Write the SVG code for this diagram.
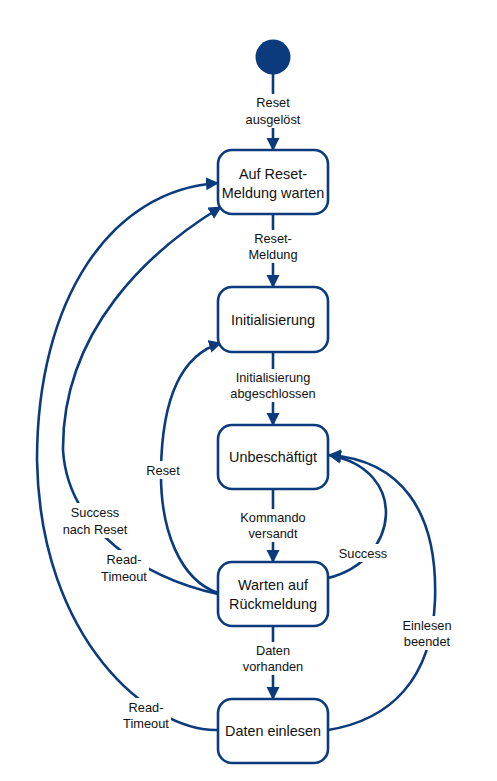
<svg xmlns="http://www.w3.org/2000/svg" width="497" height="781" viewBox="0 0 497 781">
<style>
.node rect{fill:#fff;stroke:#0b3b7c;stroke-width:2.6}
.node text{font-family:"Liberation Sans",Arial,sans-serif;font-size:14.4px;fill:#111;text-anchor:middle}
.edge{fill:none;stroke:#0b3b7c;stroke-width:2.6}
.lbl rect{fill:#fff}
.lbl text{font-family:"Liberation Sans",Arial,sans-serif;font-size:12.8px;fill:#111;text-anchor:middle}
</style>
<defs>
<marker id="ah" markerWidth="14" markerHeight="14" refX="12" refY="6.5" orient="auto" markerUnits="userSpaceOnUse">
<path d="M0,0 L13,6.5 L0,13 z" fill="#0b3b7c"/>
</marker>
</defs>
<rect width="497" height="781" fill="#fff"/>
<g id="connectors">
<path class="edge" d="M273,74 L273,150" marker-end="url(#ah)"/>
<path class="edge" d="M273,214 L273,287" marker-end="url(#ah)"/>
<path class="edge" d="M273,352 L273,425" marker-end="url(#ah)"/>
<path class="edge" d="M273,489 L273,562" marker-end="url(#ah)"/>
<path class="edge" d="M273,626 L273,699" marker-end="url(#ah)"/>
<path class="edge" d="M218,730 C150,732 40,640 37,460 C37,300 110,190 218,183" marker-end="url(#ah)"/>
<path class="edge" d="M218,594 C145,578 68,530 63,450 C62,330 150,250 221,207" marker-end="url(#ah)"/>
<path class="edge" d="M218,593 C180,580 160,530 161,470 C162,400 180,355 221,343" marker-end="url(#ah)"/>
<path class="edge" d="M328,578 C400,560 410,470 329,455" marker-end="url(#ah)"/>
<path class="edge" d="M328,730 C390,720 432,680 435,600 C438,510 400,460 329,455" marker-end="url(#ah)"/>
<g class="lbl"><rect x="244" y="94" width="58" height="34"/><text x="273" y="106.5">Reset</text><text x="273" y="123.5">ausgelöst</text></g>
<g class="lbl"><rect x="246" y="230" width="54" height="33"/><text x="273" y="242.5">Reset-</text><text x="273" y="258.5">Meldung</text></g>
<g class="lbl"><rect x="228" y="369" width="90" height="33"/><text x="273" y="381.5">Initialisierung</text><text x="273" y="397.5">abgeschlossen</text></g>
<g class="lbl"><rect x="239" y="509" width="68" height="33"/><text x="273" y="521.5">Kommando</text><text x="273" y="537.5">versandt</text></g>
<g class="lbl"><rect x="241" y="642" width="64" height="33"/><text x="273" y="654.5">Daten</text><text x="273" y="671">vorhanden</text></g>
<g class="lbl"><rect x="145" y="461" width="36" height="18"/><text x="163" y="474.5">Reset</text></g>
<g class="lbl"><rect x="61" y="503" width="68" height="35"/><text x="95" y="516.5">Success</text><text x="95" y="533.5">nach Reset</text></g>
<g class="lbl"><rect x="99" y="550" width="50" height="35"/><text x="124" y="563.5">Read-</text><text x="124" y="580.5">Timeout</text></g>
<g class="lbl"><rect x="121" y="698" width="50" height="34"/><text x="146" y="711.5">Read-</text><text x="146" y="727.5">Timeout</text></g>
<g class="lbl"><rect x="337" y="544" width="52" height="18"/><text x="363" y="557.5">Success</text></g>
<g class="lbl"><rect x="401" y="616" width="52" height="34"/><text x="427" y="629.5">Einlesen</text><text x="427" y="645.5">beendet</text></g>
</g>
<g id="start"><circle cx="273" cy="57" r="17.5" fill="#0b3b7c"/></g>
<g id="n1" class="node"><rect x="218" y="150" width="110" height="64" rx="14"/><text x="273" y="179">Auf Reset-</text><text x="273" y="198">Meldung warten</text></g>
<g id="n2" class="node"><rect x="218" y="287" width="110" height="65" rx="14"/><text x="273" y="325">Initialisierung</text></g>
<g id="n3" class="node"><rect x="218" y="425" width="110" height="64" rx="14"/><text x="273" y="462">Unbeschäftigt</text></g>
<g id="n4" class="node"><rect x="218" y="562" width="110" height="64" rx="14"/><text x="273" y="590">Warten auf</text><text x="273" y="608.5">Rückmeldung</text></g>
<g id="n5" class="node"><rect x="218" y="699" width="110" height="64" rx="14"/><text x="273" y="736">Daten einlesen</text></g>
</svg>
